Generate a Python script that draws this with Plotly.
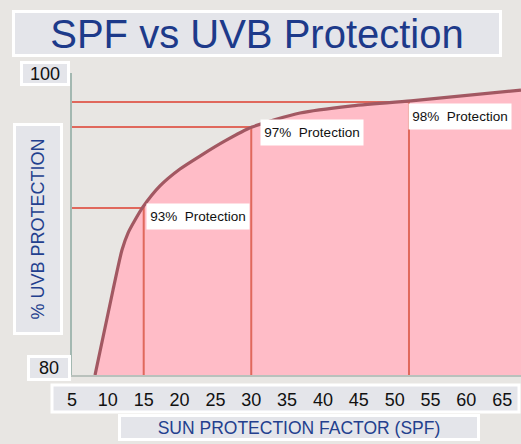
import plotly.graph_objects as go

# ---------------- data ----------------
spf_curve = [8.21, 10.72, 11.97, 12.81, 13.79, 14.90, 17.27, 20.06, 22.85, 26.34, 30.10, 36.80, 43.77, 52.28, 67.62]
uvb_curve = [80.00, 85.63, 88.28, 89.40, 90.26, 91.13, 92.52, 93.64, 94.50, 95.50, 96.42, 97.35, 97.81, 98.15, 98.87]

marker_spf = [15, 30, 52]
marker_level = [91.06, 96.42, 98.08]
marker_labels = ["93%  Protection", "97%  Protection", "98%  Protection"]

x_ticks = [5, 10, 15, 20, 25, 30, 35, 40, 45, 50, 55, 60, 65]
y_tick_values = [100, 80]
y_tick_labels = ["100", "80"]

title_text = "SPF vs UVB Protection"
x_title = "SUN PROTECTION FACTOR (SPF)"
y_title = "% UVB PROTECTION"

# ---------------- layout geometry ----------------
W, H = 521, 444
ML, MR, MT, MB = 72, 0, 73, 69
PW, PH = W - ML - MR, H - MT - MB
X_MIN = 5
X_MAX = 5 + PW / 7.17

def px(x):
    return (x - ML) / PW

def py(y):
    return (H - MB - y) / PH

BG = "#e8e6e3"
BOX = "#e4e5ea"
BLUE = "#233f8e"
PINK = "#ffbcc7"
RED = "#e0685c"
CURVE = "#a25862"
FONT = "Liberation Sans, Arial, sans-serif"

fig = go.Figure()

# pink fill under curve
fig.add_trace(go.Scatter(
    x=spf_curve, y=uvb_curve, mode="lines", fill="tozeroy",
    fillcolor=PINK, line=dict(width=0, shape="spline", smoothing=0.6, color=PINK),
    hoverinfo="skip", showlegend=False))

# protection marker lines
for s, lv in zip(marker_spf, marker_level):
    fig.add_trace(go.Scatter(
        x=[X_MIN, s, s], y=[lv, lv, 80], mode="lines",
        line=dict(color=RED, width=2), hoverinfo="skip", showlegend=False))

# curve
fig.add_trace(go.Scatter(
    x=spf_curve, y=uvb_curve, mode="lines",
    line=dict(color=CURVE, width=3.2, shape="spline", smoothing=0.6),
    hoverinfo="skip", showlegend=False))

annotations = []
# protection labels
shifts = [(2, 5), (9, 8), (-1, -1)]
for s, lv, t, (dx, dy) in zip(marker_spf, marker_level, marker_labels, shifts):
    annotations.append(dict(
        x=s, y=lv, xref="x", yref="y", text=t, showarrow=False,
        xanchor="left", yanchor="top", xshift=dx, yshift=dy,
        font=dict(family=FONT, size=13.5, color="#111111"),
        bgcolor="white", width=100, height=23, borderpad=1))

# title
annotations.append(dict(
    x=px(257), y=py(33.5), xref="paper", yref="paper", text=title_text,
    showarrow=False, xanchor="center", yanchor="middle",
    font=dict(family=FONT, size=40, color="#1d3a8a"),
    bgcolor=BOX, bordercolor="white", borderwidth=3, borderpad=0,
    width=484, height=41))

# y axis title
annotations.append(dict(
    x=px(38), y=py(229), xref="paper", yref="paper", text=y_title,
    showarrow=False, xanchor="center", yanchor="middle", textangle=-90,
    font=dict(family=FONT, size=18, color=BLUE),
    bgcolor=BOX, bordercolor="white", borderwidth=3, borderpad=0,
    width=206, height=44))

# x axis title
annotations.append(dict(
    x=px(299), y=py(427.5), xref="paper", yref="paper", text=x_title,
    showarrow=False, xanchor="center", yanchor="middle",
    font=dict(family=FONT, size=17.5, color=BLUE),
    bgcolor=BOX, bordercolor="white", borderwidth=3, borderpad=0,
    width=356, height=21))

# y tick labels in boxes
ytick_boxes = [(44.5, 0, 44, 19), (49, 7.5, 38, 20)]
for v, t, (cx, dy, w, h) in zip(y_tick_values, y_tick_labels, ytick_boxes):
    annotations.append(dict(
        x=px(cx), y=v, xref="paper", yref="y", text=t, showarrow=False,
        xanchor="center", yanchor="middle", yshift=dy,
        font=dict(family=FONT, size=18, color="#111111"),
        bgcolor=BOX, bordercolor="white", borderwidth=3, borderpad=0,
        width=w, height=h))

shapes = [
    # x tick label box
    dict(type="rect", xref="paper", yref="paper",
         x0=px(52), x1=px(519), y0=py(385), y1=py(412),
         fillcolor=BOX, line=dict(color="white", width=3), layer="below"),
]

fig.update_layout(
    width=W, height=H,
    margin=dict(l=ML, r=MR, t=MT, b=MB, pad=0),
    paper_bgcolor=BG, plot_bgcolor=BG,
    annotations=annotations, shapes=shapes,
    showlegend=False,
    xaxis=dict(range=[X_MIN, X_MAX], tickvals=x_ticks, ticktext=[str(v) for v in x_ticks],
               showgrid=False, zeroline=False, showline=True, linecolor="#b9c1bc", linewidth=1.5,
               ticks="", tickfont=dict(family=FONT, size=18, color="#111111"),
               ticklabelstandoff=8, fixedrange=True),
    yaxis=dict(range=[80, 100], showticklabels=False, showgrid=False, zeroline=False,
               showline=True, linecolor="#a3b8b1", linewidth=2, ticks="", fixedrange=True),
)

fig.write_html("out.html", config={"displayModeBar": False},
               post_script="document.body.style.margin='0';")
